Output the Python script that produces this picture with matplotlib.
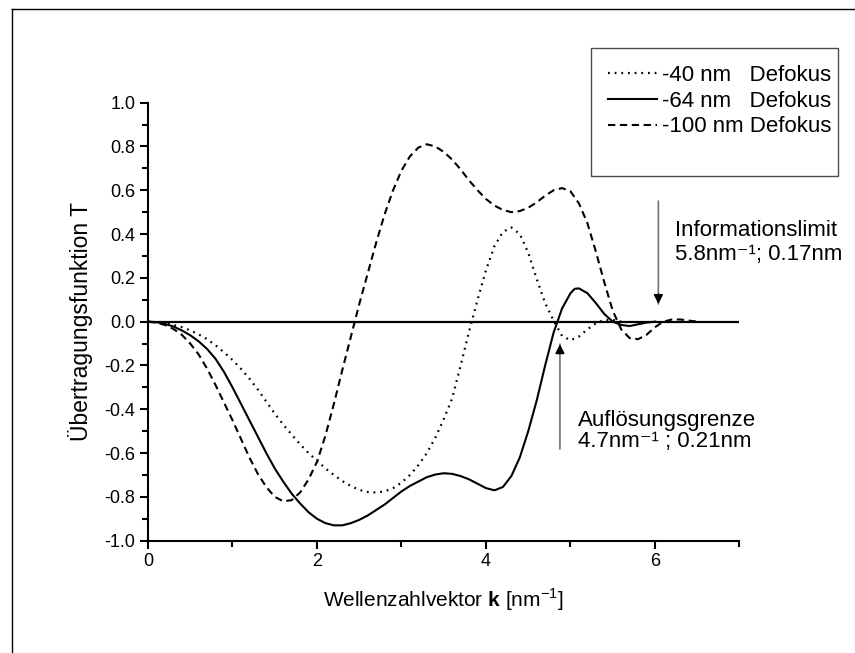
import numpy as np
import matplotlib
matplotlib.use("Agg")
import matplotlib.pyplot as plt
from matplotlib.lines import Line2D
from matplotlib.patches import Rectangle

plt.rcParams['font.family'] = ['Liberation Sans', 'DejaVu Sans']
plt.rcParams['mathtext.fontset'] = 'custom'
plt.rcParams['mathtext.rm'] = 'Liberation Sans'
plt.rcParams['mathtext.bf'] = 'Liberation Sans:bold'

# -40 nm Defokus (dotted)
k40 = [0, 0.2, 0.4, 0.5, 0.6, 0.7, 0.8, 0.9, 1.0, 1.1, 1.2, 1.3, 1.4, 1.5, 1.6, 1.7,
       1.8, 1.9, 2.0, 2.1, 2.2, 2.3, 2.4, 2.5, 2.6, 2.7, 2.8, 2.9, 3.0, 3.1, 3.2,
       3.3, 3.4, 3.5, 3.6, 3.7, 3.8, 3.9, 4.0, 4.1, 4.2, 4.3, 4.4, 4.5, 4.6, 4.7,
       4.8, 4.9, 5.0, 5.1, 5.2, 5.3, 5.4, 5.5, 5.6]
t40 = [0, -0.005, -0.025, -0.04, -0.058, -0.08, -0.108, -0.14, -0.175, -0.215,
       -0.26, -0.31, -0.365, -0.42, -0.47, -0.515, -0.56, -0.60, -0.635, -0.67,
       -0.70, -0.728, -0.75, -0.768, -0.778, -0.78, -0.775, -0.76, -0.735, -0.70,
       -0.655, -0.60, -0.53, -0.445, -0.35, -0.20, -0.045, 0.10, 0.235, 0.345,
       0.41, 0.43, 0.40, 0.315, 0.195, 0.085, 0.005, -0.065, -0.085, -0.068,
       -0.035, -0.008, 0.008, 0.008, 0.0]

# -64 nm Defokus (solid)
k64 = [0, 0.1, 0.2, 0.3, 0.4, 0.5, 0.6, 0.7, 0.8, 0.9, 1.0, 1.1, 1.2, 1.3, 1.4,
       1.5, 1.6, 1.7, 1.8, 1.9, 2.0, 2.1, 2.2, 2.3, 2.4, 2.5, 2.6, 2.7, 2.8, 2.9,
       3.0, 3.1, 3.2, 3.3, 3.4, 3.5, 3.6, 3.7, 3.8, 3.9, 4.0, 4.1, 4.2, 4.3, 4.4,
       4.5, 4.6, 4.7, 4.8, 4.9, 5.0, 5.05, 5.1, 5.2, 5.3, 5.4, 5.5, 5.6, 5.7, 5.8,
       5.9, 6.0]
t64 = [0, -0.002, -0.01, -0.022, -0.04, -0.062, -0.09, -0.125, -0.17, -0.23,
       -0.30, -0.375, -0.45, -0.525, -0.60, -0.67, -0.73, -0.785, -0.83, -0.87,
       -0.90, -0.92, -0.93, -0.93, -0.92, -0.905, -0.885, -0.86, -0.835, -0.805,
       -0.775, -0.75, -0.73, -0.71, -0.698, -0.692, -0.695, -0.705, -0.72, -0.74,
       -0.76, -0.77, -0.755, -0.705, -0.62, -0.50, -0.36, -0.20, -0.05, 0.06,
       0.13, 0.15, 0.152, 0.13, 0.085, 0.035, 0.0, -0.015, -0.02, -0.012,
       -0.004, 0.0]

# -100 nm Defokus (dashed)
k100 = [0, 0.1, 0.2, 0.3, 0.4, 0.5, 0.6, 0.7, 0.8, 0.9, 1.0, 1.1, 1.2, 1.3, 1.4,
        1.5, 1.6, 1.7, 1.8, 1.9, 2.0, 2.1, 2.2, 2.3, 2.4, 2.5, 2.6, 2.7, 2.8,
        2.9, 3.0, 3.1, 3.2, 3.3, 3.4, 3.5, 3.6, 3.7, 3.8, 3.9, 4.0, 4.1, 4.2,
        4.3, 4.4, 4.5, 4.6, 4.7, 4.8, 4.9, 5.0, 5.1, 5.2, 5.3, 5.4, 5.5, 5.6,
        5.7, 5.8, 5.9, 6.0, 6.1, 6.2, 6.3, 6.4, 6.5]
t100 = [0, -0.004, -0.015, -0.033, -0.06, -0.10, -0.15, -0.215, -0.29, -0.37,
        -0.45, -0.535, -0.62, -0.695, -0.755, -0.80, -0.82, -0.815, -0.78, -0.72,
        -0.64, -0.52, -0.375, -0.22, -0.07, 0.08, 0.22, 0.36, 0.49, 0.60, 0.69,
        0.755, 0.795, 0.81, 0.80, 0.775, 0.74, 0.695, 0.645, 0.60, 0.56, 0.53,
        0.51, 0.50, 0.505, 0.52, 0.545, 0.575, 0.60, 0.61, 0.595, 0.54, 0.45,
        0.32, 0.18, 0.05, -0.035, -0.075, -0.08, -0.06, -0.025, 0.0, 0.01, 0.01,
        0.005, 0.0]

labels = ["-40 nm   Defokus", "-64 nm   Defokus", "-100 nm Defokus"]

fig = plt.figure(figsize=(8.55, 6.53), dpi=100)
ax = fig.add_axes([0.1731, 0.172, 0.6918, 0.6708])

ax.axhline(0, color='k', lw=1.6, zorder=1)
l1, = ax.plot(k40, t40, color='k', lw=1.6, ls=(0, (0.8, 2.2)))
l2, = ax.plot(k64, t64, color='k', lw=1.5, ls='-')
l3, = ax.plot(k100, t100, color='k', lw=1.5, ls=(0, (3.5, 2.2)))

ax.set_xlim(0, 7)
ax.set_ylim(-1.0, 1.0)
ax.set_xticks([0, 2, 4, 6])
ax.set_xticks([1, 3, 5, 7], minor=True)
ax.set_yticks(np.arange(-1.0, 1.01, 0.2))
ax.set_yticks(np.arange(-0.9, 1.0, 0.2), minor=True)
ax.yaxis.set_major_formatter(plt.FuncFormatter(lambda v, p: "%.1f" % (round(v, 1) + 0.0)))
ax.spines['top'].set_visible(False)
ax.spines['right'].set_visible(False)
ax.spines['left'].set_linewidth(1.5)
ax.spines['bottom'].set_linewidth(1.5)
ax.tick_params(which='major', direction='out', length=6, width=1.5, labelsize=13, pad=3)
ax.tick_params(which='minor', direction='out', length=4, width=1.5)

ax.set_xlabel(r"Wellenzahlvektor $\mathbf{k}$ [nm$^{-1}$]", fontsize=15, labelpad=12)
ax.set_ylabel("Übertragungsfunktion T", fontsize=16.5, labelpad=8)

# annotations: gray shaft, black head
ax.annotate("", xy=(6.04, 0.068), xytext=(6.04, 0.563),
            arrowprops=dict(arrowstyle='-', color='0.45', lw=1.2))
ax.annotate("", xy=(6.04, 0.068), xytext=(6.04, 0.14),
            arrowprops=dict(arrowstyle='-|>', color='k', lw=1, mutation_scale=14))
ax.text(6.24, 0.414, "Informationslimit", fontsize=16, va='center', ha='left')
ax.text(6.24, 0.305, "5.8nm⁻¹; 0.17nm", fontsize=16, va='center', ha='left')

ax.annotate("", xy=(4.875, -0.09), xytext=(4.875, -0.594),
            arrowprops=dict(arrowstyle='-', color='0.45', lw=1.2))
ax.annotate("", xy=(4.875, -0.09), xytext=(4.875, -0.16),
            arrowprops=dict(arrowstyle='-|>', color='k', lw=1, mutation_scale=14))
ax.text(5.09, -0.452, "Auflösungsgrenze", fontsize=16, va='center', ha='left')
ax.text(5.09, -0.545, "4.7nm⁻¹ ; 0.21nm", fontsize=16, va='center', ha='left')

# legend box
fig.add_artist(Rectangle((591 / 855, 1 - 176 / 653), 247 / 855, 128 / 653,
                         transform=fig.transFigure, fill=False, ec='0.3', lw=1))
fig.legend([l1, l2, l3], labels, loc='upper left', bbox_to_anchor=(0.711, 0.901),
           frameon=False, fontsize=16, handlelength=2.2, handletextpad=0.25,
           labelspacing=0.22, borderpad=0, borderaxespad=0)

# outer frame (top and left edges)
fig.add_artist(Line2D([12 / 855, 1], [1 - 9 / 653, 1 - 9 / 653], transform=fig.transFigure, color='k', lw=1))
fig.add_artist(Line2D([12 / 855, 12 / 855], [0, 1 - 9 / 653], transform=fig.transFigure, color='k', lw=1))

fig.savefig("out.png", dpi=100)
